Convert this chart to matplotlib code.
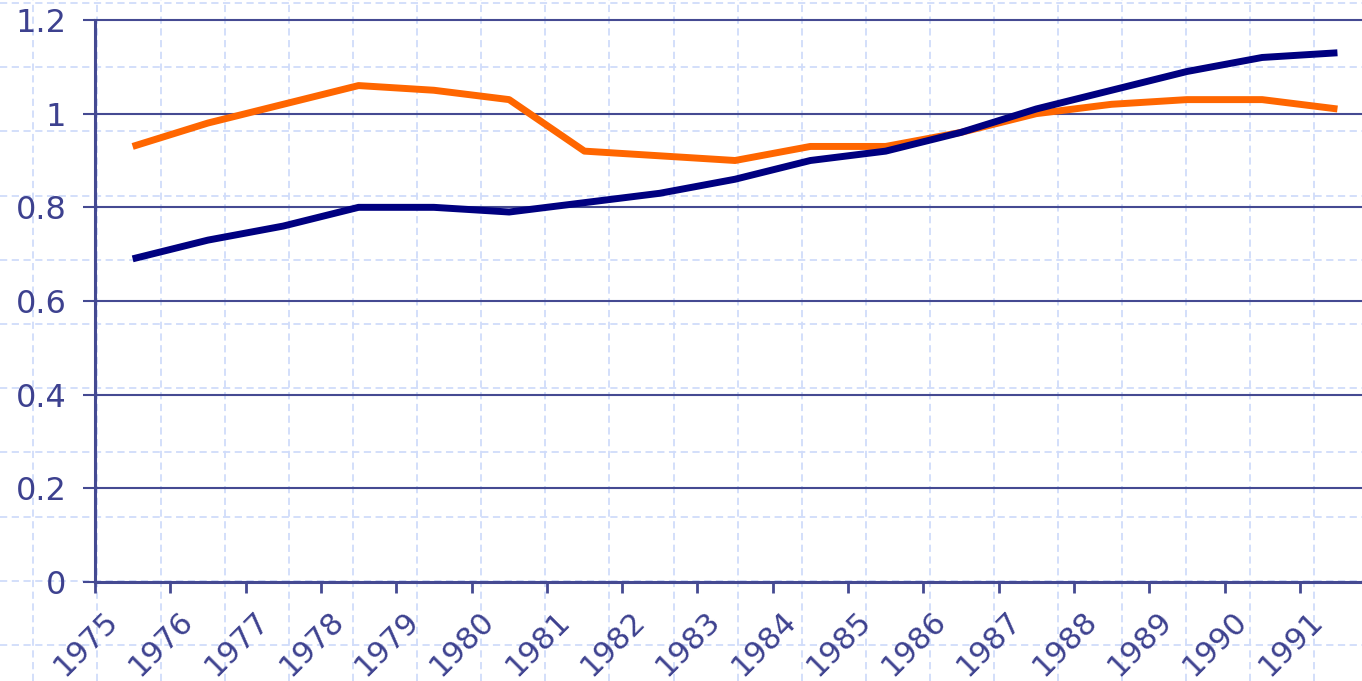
import matplotlib
matplotlib.use("Agg")
import matplotlib.pyplot as plt
import matplotlib.transforms as mtransforms
import numpy as np

# data
years = list(range(1975, 1992))
orange_vals = [0.93, 0.98, 1.02, 1.06, 1.05, 1.03, 0.92, 0.91, 0.90, 0.93,
               0.93, 0.96, 1.00, 1.02, 1.03, 1.03, 1.01]
navy_vals = [0.69, 0.73, 0.76, 0.80, 0.80, 0.79, 0.81, 0.83, 0.86, 0.90,
             0.92, 0.96, 1.01, 1.05, 1.09, 1.12, 1.13]
y_ticks = [0, 0.2, 0.4, 0.6, 0.8, 1.0, 1.2]
y_labels = ["0", "0.2", "0.4", "0.6", "0.8", "1", "1.2"]

W, H = 1362, 681
axis_col = "#454a92"
text_col = "#3d418f"

fig = plt.figure(figsize=(W / 100, H / 100), dpi=100)

# graph-paper background of the slide
bg = fig.add_axes([0, 0, 1, 1], zorder=0)
bg.set_xlim(0, W)
bg.set_ylim(H, 0)
bg.axis("off")
for gx in np.arange(33, W, 64.05):
    bg.axvline(gx, color="#d0dcfa", lw=1.3, ls=(0, (4, 2.5)))
for gy in np.arange(3, H, 64.2):
    bg.axhline(gy, color="#d0dcfa", lw=1.3, ls=(0, (4, 2.5)))

# main chart
left, bottom, top = 95, 582, 20
ax = fig.add_axes([left / W, (H - bottom) / H, 1 - left / W, (bottom - top) / H],
                  zorder=1)
ax.set_facecolor("none")

x = np.array(years) + 0.5
ax.plot(x, orange_vals, color="#ff6600", lw=5, solid_joinstyle="round",
        solid_capstyle="butt", zorder=3)
ax.plot(x, navy_vals, color="#000080", lw=5, solid_joinstyle="round",
        solid_capstyle="butt", zorder=4)

ax.set_ylim(0, 1.2)
ax.set_xlim(years[0], years[0] + (W - left) / 75.3)

ax.set_yticks(y_ticks)
ax.set_yticklabels(y_labels)
ax.set_xticks(years)
ax.set_xticklabels([str(y) for y in years])

for yt in y_ticks[1:]:
    ax.axhline(yt, color=axis_col, lw=1.5, zorder=2, clip_on=False)

for side in ["top", "right"]:
    ax.spines[side].set_visible(False)
for side in ["left", "bottom"]:
    ax.spines[side].set_color(axis_col)
    ax.spines[side].set_linewidth(2.2)

ax.tick_params(axis="y", length=8.6, width=1.5, color=axis_col, pad=12,
               labelsize=23, labelcolor=text_col)
ax.tick_params(axis="x", length=8, width=2, color=axis_col, pad=0,
               labelsize=22, labelcolor=text_col)

offset = mtransforms.ScaledTranslation(-0.09, -0.50, fig.dpi_scale_trans)
for lab in ax.get_xticklabels():
    lab.set_rotation(45)
    lab.set_ha("center")
    lab.set_va("center")
    lab.set_rotation_mode("anchor")
    lab.set_transform(lab.get_transform() + offset)

fig.savefig("out.png", dpi=100)
